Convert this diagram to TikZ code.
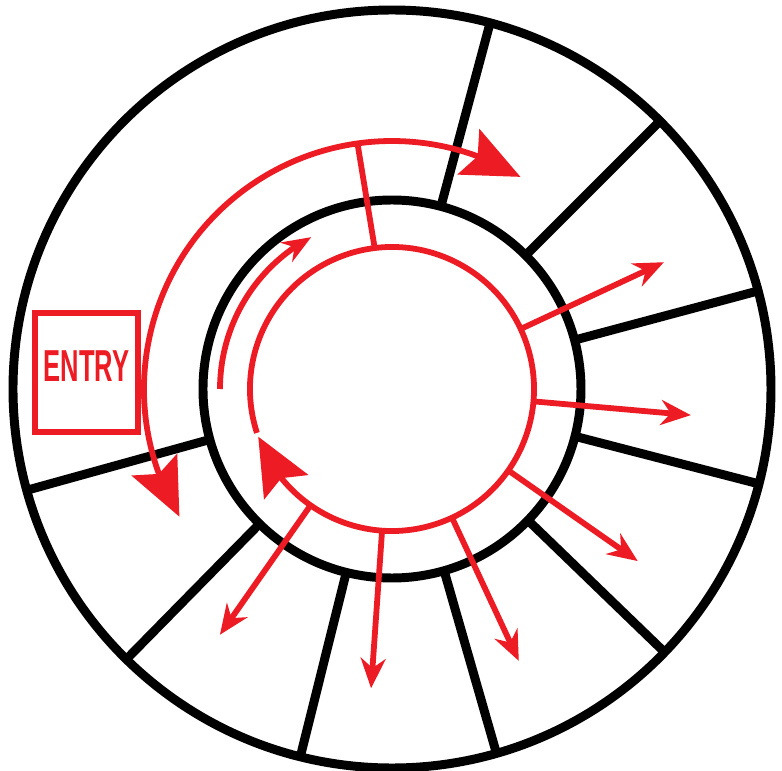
\documentclass[tikz,border=0pt]{standalone}
\usepackage{fontspec}
\usepackage{tikz}
\usetikzlibrary{arrows.meta,bending}
\definecolor{signred}{RGB}{237,28,36}
\newfontfamily\entryfont[FakeStretch=0.57]{Liberation Sans}

\begin{document}
\begin{tikzpicture}[x=0.02cm,y=0.02cm,
  wall/.style={draw=black,line width=5.1pt},
  flow/.style={draw=signred,line width=3.3pt},
  bigtip/.tip={Stealth[length=1.15cm,width=1cm,inset=0.2cm]},
  exit/.style={flow,-{Stealth[length=0.6cm,width=0.5cm]}},
  entrybox/.style={draw=signred,line width=3.2pt,minimum width=2.06cm,minimum height=2.38cm,text=signred,font=\entryfont\bfseries\fontsize{25.5}{25.5}\selectfont}
]
\useasboundingbox (-392,-382) rectangle (390,389);
\coordinate (c) at (0,0);
% rings and dividing walls
\draw[wall] (c) circle (379);
\draw[wall] (c) circle (189);
\foreach \a in {75,45,15,-14.5,-44,-74,-104,-134.5,-164.5}
  \draw[wall] (\a:189) -- (\a:379);
% entry
\node[entrybox,text height=0.64cm,text depth=0.26cm] (entry) at (-305.5,16.5) {ENTRY};
% outer corridor
\draw[flow,bigtip-bigtip] (211:248) arc[start angle=211,end angle=58.8,radius=248];
\draw[flow] (98:248) -- (97:142);
% inner loop
\draw[flow,-bigtip] (198:142) arc[start angle=198,end angle=-160.4,radius=142];
\draw[flow,-{Stealth[length=0.58cm,width=0.45cm]}] (180:172) arc[start angle=180,end angle=118,radius=172];
% exits
\foreach \a in {25,-5,-35,-65,-94,-125}
  \draw[exit] (\a:142) -- (\a:300);
\end{tikzpicture}
\end{document}
